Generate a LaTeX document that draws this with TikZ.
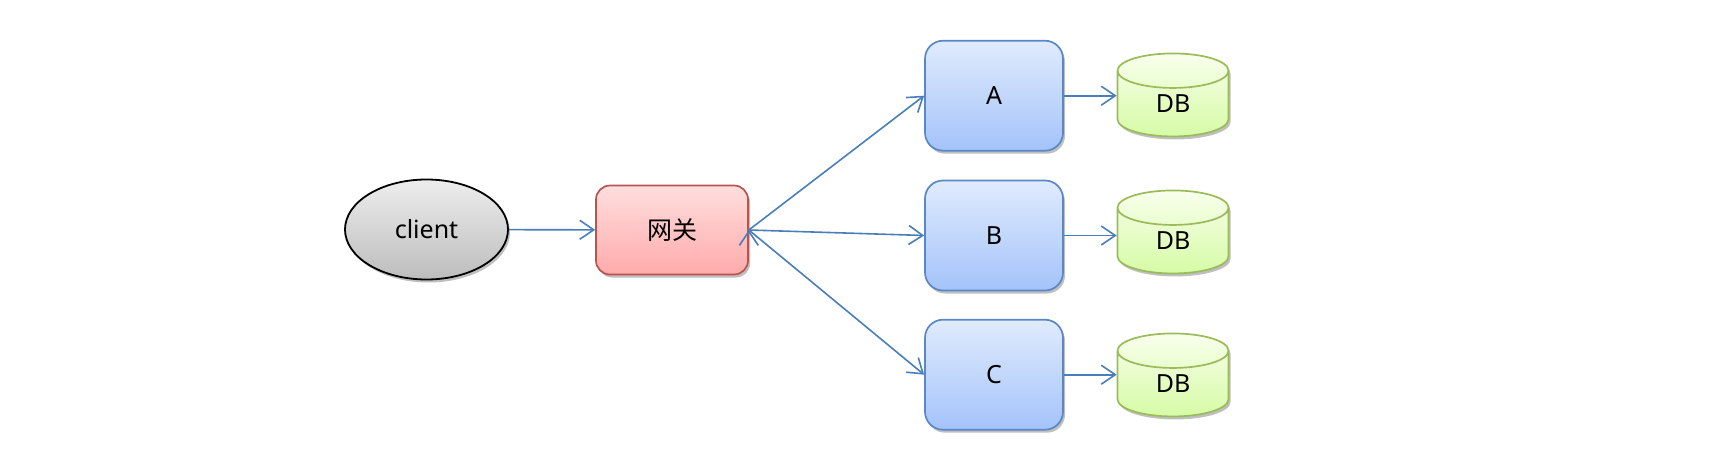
\documentclass[tikz,border=0pt]{standalone}
\usepackage{fontspec}
\setmainfont{Noto Sans}
\newfontfamily\cjkfont{Noto Sans CJK SC}
\usepackage{tikz}
\usetikzlibrary{arrows.meta, positioning, shapes.geometric, shadows}

\definecolor{linkblue}{HTML}{4A7EBB}
\definecolor{gwborder}{HTML}{B85450}
\definecolor{svcborder}{HTML}{5A87C6}
\definecolor{dbborder}{HTML}{9BBB59}

\tikzset{
  softshadow/.style={drop shadow={shadow xshift=2pt, shadow yshift=-3pt, opacity=0.25, fill=black}},
  clientnode/.style={ellipse, draw=black, line width=1.8pt, top color=black!7, bottom color=black!26,
    minimum width=163pt, minimum height=100pt, inner sep=0pt, softshadow},
  gwnode/.style={rectangle, rounded corners=14pt, draw=gwborder, line width=1.7pt,
    top color=red!13, bottom color=red!33, minimum width=152pt, minimum height=89pt, softshadow},
  svcnode/.style={rectangle, rounded corners=18pt, draw=svcborder, line width=1.7pt,
    top color={rgb,255:red,224;green,235;blue,253}, bottom color={rgb,255:red,164;green,195;blue,250},
    minimum width=138pt, minimum height=110pt, softshadow},
  dbnode/.style={cylinder, shape border rotate=90, aspect=1.0, draw=dbborder, line width=1.7pt,
    top color={rgb,255:red,248;green,255;blue,236}, bottom color={rgb,255:red,214;green,251;blue,166},
    minimum width=111pt, minimum height=83pt, inner sep=0pt, softshadow},
  link/.style={draw=linkblue, line width=1.6pt, -{Straight Barb[length=14pt, width=19pt]}}
}

\begin{document}
\begin{tikzpicture}[x=1pt, y=-1pt, font=\fontsize{25}{30}\selectfont]
  \useasboundingbox (0,0) rectangle (1722,460);
  \node (client) [clientnode] at (426.5,229.5) {client};
  \node (gw) [gwnode] at (672,230) {\cjkfont 网关};
  \node (svcA) [svcnode] at (994,95.7) {A};
  \node (svcB) [svcnode] at (994,235.5) {B};
  \node (svcC) [svcnode] at (994,374.7) {C};
  \node (dbA) [dbnode] at (1173,104) {DB};
  \node (dbB) [dbnode] at (1173,241) {DB};
  \node (dbC) [dbnode] at (1173,384) {DB};

  \path [link]
      (client) edge (gw)
      (gw.east) edge (svcA.west)
      (gw.east) edge (svcB.west)
      (gw.east) edge (svcC.west)
      (svcA) edge (svcA -| dbA.west)
      (svcB) edge (svcB -| dbB.west)
      (svcC) edge (svcC -| dbC.west)
      ;
\end{tikzpicture}
\end{document}
